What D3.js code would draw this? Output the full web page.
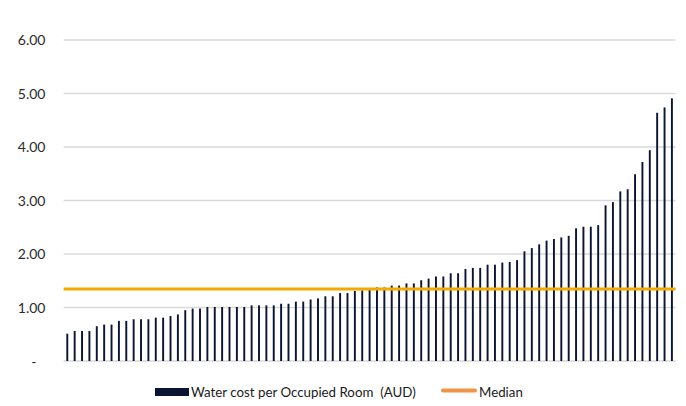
<!DOCTYPE html>
<html>
<head>
<meta charset="utf-8">
<script src="https://cdn.jsdelivr.net/npm/d3@7"></script>
<style>
  html, body { margin: 0; padding: 0; background: #ffffff; }
  svg { display: block; font-family: Lato, "Open Sans", sans-serif; }
</style>
</head>
<body>
<svg id="chart" width="686" height="406"></svg>
<script>
// ---- data ----
const values = [
  0.51, 0.56, 0.56, 0.56, 0.65, 0.68, 0.68, 0.75, 0.75, 0.78,
  0.78, 0.78, 0.81, 0.81, 0.84, 0.87, 0.95, 0.98, 0.98, 1.01,
  1.01, 1.01, 1.01, 1.01, 1.01, 1.04, 1.04, 1.04, 1.04, 1.07,
  1.07, 1.11, 1.11, 1.15, 1.17, 1.21, 1.21, 1.27, 1.27, 1.31,
  1.32, 1.345, 1.375, 1.375, 1.41, 1.41, 1.45, 1.45, 1.51, 1.54,
  1.58, 1.58, 1.64, 1.64, 1.72, 1.74, 1.74, 1.80, 1.80, 1.84,
  1.85, 1.885, 2.05, 2.11, 2.18, 2.25, 2.28, 2.31, 2.34, 2.48,
  2.51, 2.51, 2.54, 2.91, 2.97, 3.17, 3.21, 3.49, 3.72, 3.94,
  4.64, 4.74, 4.91
];
const categories = values.map((d, i) => i + 1);
const medianValue = 1.345;
const yTicks = [0, 1, 2, 3, 4, 5, 6];
const yTickLabels = ["-", "1.00", "2.00", "3.00", "4.00", "5.00", "6.00"];
const seriesNames = ["Water cost per Occupied Room\u00a0 (AUD)", "Median"];

// ---- layout ----
const svg = d3.select("#chart");
const plotLeft = 63.6, plotRight = 675.6, plotTop = 40, plotBottom = 361;
const barColor = "#0b1431";
const medianColor = "#f2aa00";
const medianLegendColor = "#ef9448";
const gridColor = "#d9d9d9";

const x = d3.scaleBand()
  .domain(categories)
  .range([plotLeft, plotRight])
  .paddingInner(0.74)
  .paddingOuter(0.37);

const y = d3.scaleLinear().domain([0, 6]).range([plotBottom, plotTop]);

// gridlines
svg.append("g")
  .selectAll("line")
  .data(yTicks)
  .join("line")
  .attr("x1", plotLeft)
  .attr("x2", plotRight)
  .attr("y1", d => y(d))
  .attr("y2", d => y(d))
  .attr("stroke", gridColor)
  .attr("stroke-width", 1.3);

// y axis labels
const yAxis = d3.axisLeft(y)
  .tickValues(yTicks)
  .tickSize(0)
  .tickPadding(0)
  .tickFormat((d, i) => yTickLabels[i]);

const gy = svg.append("g")
  .attr("transform", "translate(45.5,0)")
  .call(yAxis);
gy.select(".domain").remove();
gy.selectAll("text")
  .attr("fill", "#2b2b2b")
  .style("font-size", "14px")
  .style("font-family", "Lato, sans-serif")
  .attr("dx", (d) => d === 0 ? -9 : 0)
  .attr("dy", (d) => d === 0 ? "0.4em" : "0.34em");

// bars
svg.append("g")
  .selectAll("rect")
  .data(values)
  .join("rect")
  .attr("x", (d, i) => x(categories[i]))
  .attr("width", x.bandwidth())
  .attr("y", d => y(d))
  .attr("height", d => y(0) - y(d))
  .attr("fill", barColor);

// median line
svg.append("line")
  .attr("x1", plotLeft)
  .attr("x2", plotRight)
  .attr("y1", y(medianValue))
  .attr("y2", y(medianValue))
  .attr("stroke", medianColor)
  .attr("stroke-width", 3);

// legend
const lg = svg.append("g").style("font-size", "13.3px").attr("fill", "#1a1a1a");
lg.append("rect")
  .attr("x", 155).attr("y", 388)
  .attr("width", 34).attr("height", 8)
  .attr("fill", barColor);
lg.append("text")
  .attr("x", 191).attr("y", 396.5)
  .text(seriesNames[0]);
lg.append("line")
  .attr("x1", 443).attr("x2", 475)
  .attr("y1", 390.5).attr("y2", 390.5)
  .attr("stroke", medianLegendColor)
  .attr("stroke-width", 4)
  .attr("stroke-linecap", "round");
lg.append("text")
  .attr("x", 479).attr("y", 396.5)
  .text(seriesNames[1]);
</script>
</body>
</html>
